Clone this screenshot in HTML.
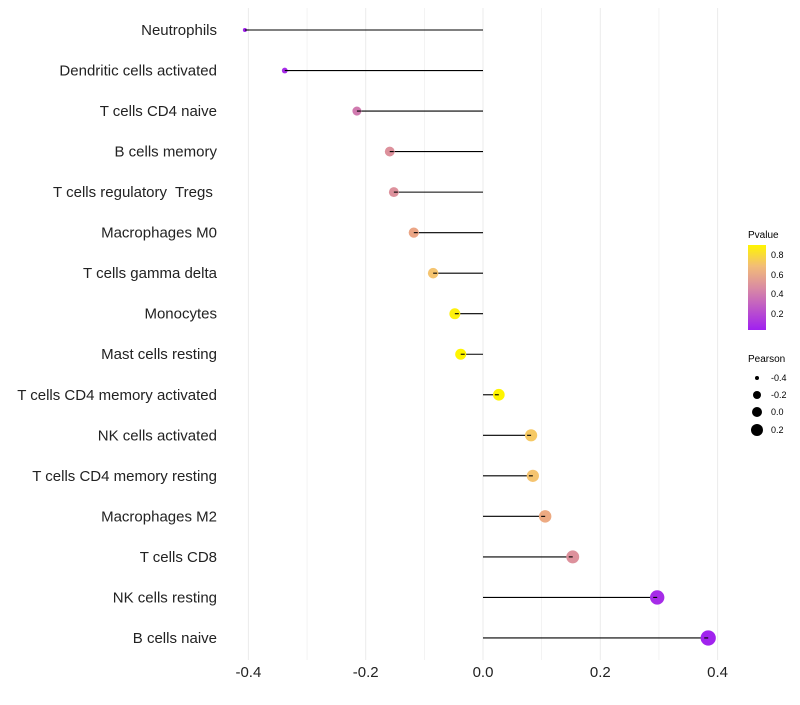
<!DOCTYPE html>
<html><head><meta charset="utf-8"><style>
body{margin:0;background:#fff;font-family:"Liberation Sans",sans-serif}
text{white-space:pre}
</style></head><body>
<svg id="chart" width="800" height="700" xmlns="http://www.w3.org/2000/svg" font-family="Liberation Sans, sans-serif">
<defs><linearGradient id="pg" x1="0" y1="1" x2="0" y2="0">
<stop offset="0" stop-color="#A020F0"/><stop offset="0.5" stop-color="#DA8CA2"/><stop offset="0.75" stop-color="#F2BC78"/><stop offset="1" stop-color="#FFF500"/></linearGradient></defs>
<g id="grid"></g><g id="marks"></g><g id="labels"></g>
<g font-size="9">
<text x="748" y="238" font-size="10">Pvalue</text>
<rect x="748" y="245" width="18" height="85" fill="url(#pg)"/>
<text x="771" y="258">0.8</text><text x="771" y="278">0.6</text><text x="771" y="297">0.4</text><text x="771" y="317">0.2</text>
</g>
<g font-size="9">
<text x="748" y="362" font-size="10">Pearson</text>
<circle cx="757" cy="378" r="2"/><text x="771" y="381">-0.4</text>
<circle cx="757" cy="395" r="4"/><text x="771" y="398">-0.2</text>
<circle cx="757" cy="412" r="5"/><text x="771" y="415">0.0</text>
<circle cx="757" cy="430" r="6"/><text x="771" y="433">0.2</text>
</g>
</svg>
<script>
const categories=["Neutrophils","Dendritic cells activated","T cells CD4 naive","B cells memory","T cells regulatory  Tregs ","Macrophages M0","T cells gamma delta","Monocytes","Mast cells resting","T cells CD4 memory activated","NK cells activated","T cells CD4 memory resting","Macrophages M2","T cells CD8","NK cells resting","B cells naive"];
const pearson=[-0.406,-0.338,-0.215,-0.159,-0.152,-0.118,-0.085,-0.048,-0.038,0.027,0.082,0.085,0.106,0.153,0.297,0.384];
const pvalue=[0.05,0.08,0.38,0.48,0.48,0.6,0.72,0.88,0.9,0.9,0.74,0.72,0.62,0.48,0.08,0.05];
const xticks=[-0.4,-0.2,0.0,0.2,0.4];
const NS="http://www.w3.org/2000/svg";
const xs=v=>483+v*586.5;
const ys=i=>30+i*40.53;
const cstops=[[0.04,[160,32,240]],[0.45,[218,140,162]],[0.6,[235,165,133]],[0.72,[245,196,112]],[0.9,[255,245,0]]];
function col(p){p=Math.max(0.04,Math.min(0.9,p));for(let k=0;k<cstops.length-1;k++){const [p0,a]=cstops[k],[p1,b]=cstops[k+1];if(p<=p1){const u=(p-p0)/(p1-p0);return`rgb(${a.map((x,j)=>Math.round(x+(b[j]-x)*u)).join(',')})`}}return'rgb(255,245,0)'}
const rs=v=>v>=-0.2?5.7+5*v:Math.max(2,4.7+(v+0.2)*13);
function mk(tag,attrs,parent){const e=document.createElementNS(NS,tag);for(const k in attrs)e.setAttribute(k,attrs[k]);document.getElementById(parent).appendChild(e);return e}
for(let v=-0.4;v<=0.41;v+=0.1){const g=mk('line',{x1:xs(v),x2:xs(v),y1:8,y2:660,stroke:'#ebebeb','stroke-width':Math.abs(Math.round(v*10))%2==0?1:0.6},'grid');

}
xticks.forEach(t=>{const e=mk('text',{x:xs(t),y:677,'text-anchor':'middle','font-size':15,fill:'#222'},'labels');e.textContent=t.toFixed(1);

});
categories.forEach((c,i)=>{const y=ys(i);
const t=mk('text',{x:217,y:y+5,'text-anchor':'end','font-size':15,fill:'#222'},'labels');t.textContent=c;


const l=mk('line',{x1:xs(0),x2:xs(pearson[i]),y1:y,y2:y,stroke:'#000','stroke-width':1.1},'marks');


const p=mk('circle',{cx:xs(pearson[i]),cy:y,r:rs(pearson[i]),fill:col(pvalue[i])},'marks');


const l2=mk('line',{x1:xs(pearson[i]),x2:xs(pearson[i])+(pearson[i]<0?4:-4),y1:y,y2:y,stroke:'#000','stroke-width':1.1},'marks');

});
</script>
</body></html>
